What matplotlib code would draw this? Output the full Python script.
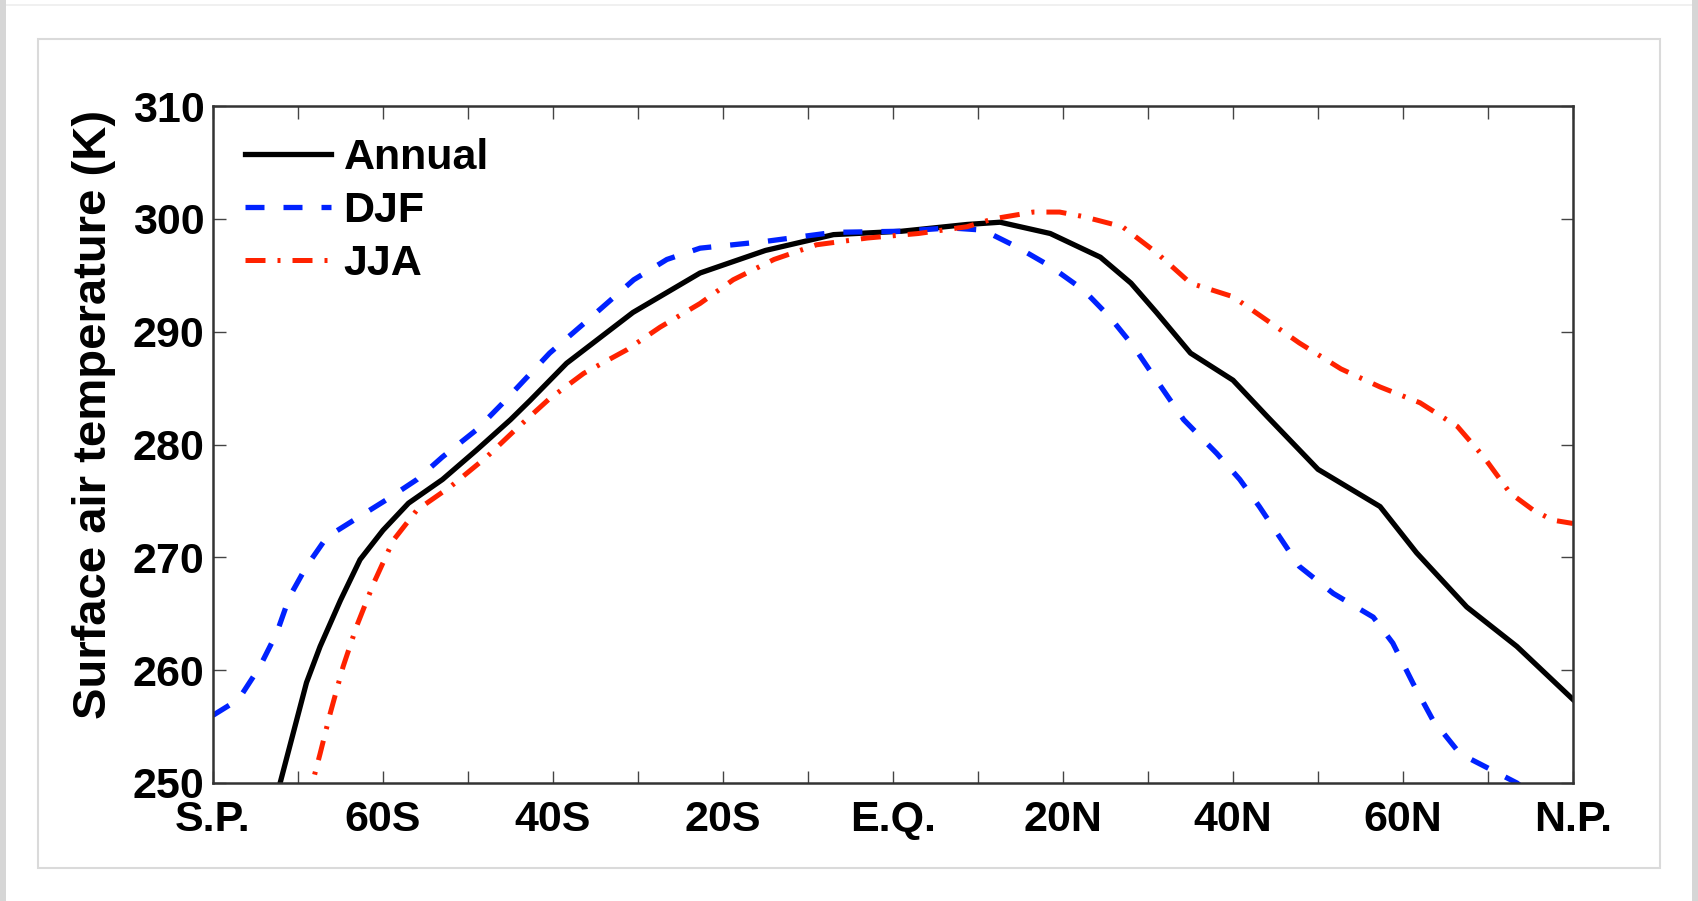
import matplotlib
matplotlib.use('Agg')
import matplotlib.pyplot as plt
from matplotlib.patches import Rectangle

plt.rcParams['font.family'] = ['Liberation Sans', 'DejaVu Sans']
plt.rcParams['font.weight'] = 'bold'

# x positions in axis units (S.P. = -80 ... N.P. = 80, one minor tick = 10)
annual_x = [-73.5, -72, -69, -67.4, -65, -62.7, -60, -57, -53, -49, -45, -42.7,
            -38.4, -30.6, -22.7, -15, -7, 1, 8.7, 12.6, 18.5, 24.4, 28, 31, 35,
            40, 44, 50, 57.3, 61.6, 67.5, 73.4, 80]
annual_t = [246.0, 250.3, 258.9, 262.1, 266.2, 269.8, 272.4, 274.8, 276.9, 279.5,
            282.2, 283.9, 287.2, 291.7, 295.2, 297.2, 298.6, 298.9, 299.5, 299.7,
            298.7, 296.6, 294.3, 291.7, 288.1, 285.7, 282.5, 277.8, 274.5, 270.4,
            265.6, 262.1, 257.4]

djf_x = [-80, -77, -74.5, -72.5, -71, -69, -66.6, -63, -59.6, -56, -53, -49, -46,
         -40.4, -36.4, -30.5, -26.6, -22.7, -15, -7, 1, 6.7, 10.6, 14.6, 18.5,
         22.4, 25.5, 28.3, 31, 34.2, 38.1, 40.8, 43.1, 47.8, 51.8, 56.5, 58.8,
         61.2, 63.5, 66.7, 69.8, 73.4, 76]
djf_t = [256.0, 257.4, 260.3, 263.3, 266.5, 269.2, 271.8, 273.5, 275.1, 276.9,
         278.9, 281.3, 283.6, 288.1, 290.7, 294.6, 296.4, 297.4, 298.0, 298.8,
         298.9, 299.2, 299.0, 297.5, 295.8, 293.7, 291.3, 288.7, 285.7, 282.2,
         279.2, 276.9, 274.5, 269.2, 266.8, 264.7, 262.4, 258.8, 255.6, 252.6,
         251.4, 250.0, 248.5]

jja_x = [-69, -68.2, -67.4, -66.2, -64.7, -63.1, -61.1, -58.8, -56, -52, -47.8,
         -44.3, -40.5, -36.4, -31.3, -27.4, -22.7, -18.8, -14, -9, -3, 3, 8.7,
         11.8, 16.5, 19.6, 22.4, 27, 31, 35, 40, 44, 47.8, 52.7, 57.3, 62, 66.4,
         69.5, 72.6, 75.3, 77.6, 80]
jja_t = [248.0, 250.3, 252.6, 256.2, 260.3, 263.9, 267.7, 271.5, 274.2, 276.3,
         278.9, 281.4, 284.0, 286.3, 288.4, 290.4, 292.5, 294.6, 296.4, 297.7,
         298.3, 298.7, 299.3, 300.0, 300.6, 300.6, 300.2, 299.3, 297.0, 294.3,
         293.1, 291.0, 289.0, 286.7, 285.1, 283.7, 281.6, 278.9, 275.7, 274.2,
         273.3, 273.0]

xtick_pos = [-80, -60, -40, -20, 0, 20, 40, 60, 80]
xtick_labels = ['S.P.', '60S', '40S', '20S', 'E.Q.', '20N', '40N', '60N', 'N.P.']
yticks = [250, 260, 270, 280, 290, 300, 310]

fig = plt.figure(figsize=(16.98, 9.01), dpi=100)
W, H = 1698, 901

# page frame / shadow, kept behind the axes
def frame_rect(x0, y0, x1, y1, **kw):
    r = Rectangle((x0 / W, 1 - y1 / H), (x1 - x0) / W, (y1 - y0) / H,
                  transform=fig.transFigure, zorder=-5, **kw)
    fig.patches.append(r)

frame_rect(0, 0, 6, H, facecolor='#d6d6d6', edgecolor='none')
frame_rect(1692, 0, W, H, facecolor='#d6d6d6', edgecolor='none')
frame_rect(6, 4, 1692, 6, facecolor='#f0f0f0', edgecolor='none')
frame_rect(38, 39, 1660, 868, facecolor='white', edgecolor='#dadada', linewidth=1.5)

ax = fig.add_axes([213 / W, 1 - 783 / H, (1573 - 213) / W, (783 - 106) / H])

ax.plot(annual_x, annual_t, color='black', lw=3.8, label='Annual')
ax.plot(djf_x, djf_t, color='#0022ff', lw=3.8, dashes=(3.6, 3.6), label='DJF')
ax.plot(jja_x, jja_t, color='#ff2200', lw=3.6, dashes=(4.0, 2.4, 0.6, 2.4), label='JJA')

ax.set_xlim(-80, 80)
ax.set_ylim(250, 310)
ax.set_xticks(xtick_pos)
ax.set_xticklabels(xtick_labels)
ax.set_xticks([p + 10 for p in xtick_pos[:-1]], minor=True)
ax.set_yticks(yticks)

ax.tick_params(which='both', direction='in', top=True, right=True, length=9,
               width=1.0, color='#444444', labelsize=31)
ax.tick_params(axis='x', which='major', pad=12)
ax.tick_params(axis='y', pad=6)
for s in ax.spines.values():
    s.set_linewidth(1.8)
    s.set_color('#333333')

ax.set_ylabel('Surface air temperature (K)', fontsize=34, fontweight='bold')
ax.yaxis.set_label_coords(-0.071, 0.545)

ax.legend(loc='upper left', bbox_to_anchor=(0.0, 1.0), frameon=False, fontsize=31,
          handlelength=2.0, handletextpad=0.28, labelspacing=0.3, borderaxespad=0.35)

fig.savefig('out.png', dpi=100)
